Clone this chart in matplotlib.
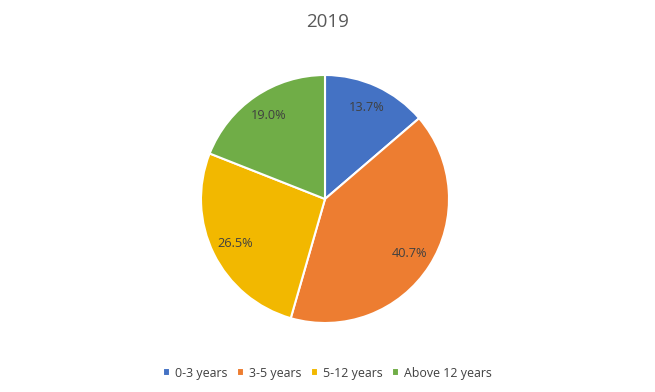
import matplotlib
matplotlib.use("Agg")
import matplotlib.pyplot as plt

# data
categories = ["0-3 years", "3-5 years", "5-12 years", "Above 12 years"]
shares = [13.7, 40.7, 26.5, 19.0]
colors = ["#4472C4", "#ED7D31", "#F2B800", "#70AD47"]
title = "2019"

plt.rcParams["font.family"] = ["Open Sans", "DejaVu Sans"]

W, H = 655, 392
fig = plt.figure(figsize=(W / 100, H / 100), dpi=100)

# pie centre (325,199) px, radius 124 px
cx, cy, r = 325, 199, 124
ax = fig.add_axes([(cx - r) / W, (H - cy - r) / H, 2 * r / W, 2 * r / H])

wedges, texts, autotexts = ax.pie(
    shares, colors=colors, startangle=90, counterclock=False,
    autopct="%.1f%%", pctdistance=0.81,
    wedgeprops=dict(edgecolor="white", linewidth=1.5),
    textprops=dict(color="#404040", fontsize=9.2),
)
ax.set_xlim(-1, 1)
ax.set_ylim(-1, 1)
ax.set_aspect("equal")

fig.text(0.5, 1 - 22 / H, title, ha="center", va="center",
         fontsize=13.5, color="#595959")

fig.legend(wedges, categories, loc="center", bbox_to_anchor=(0.5, 1 - 373 / H),
           ncol=4, frameon=False, fontsize=8.9, labelcolor="#404040",
           handlelength=0.6, handleheight=0.6, handletextpad=0.4,
           columnspacing=0.75)

fig.savefig("out.png", dpi=100, facecolor="white")
